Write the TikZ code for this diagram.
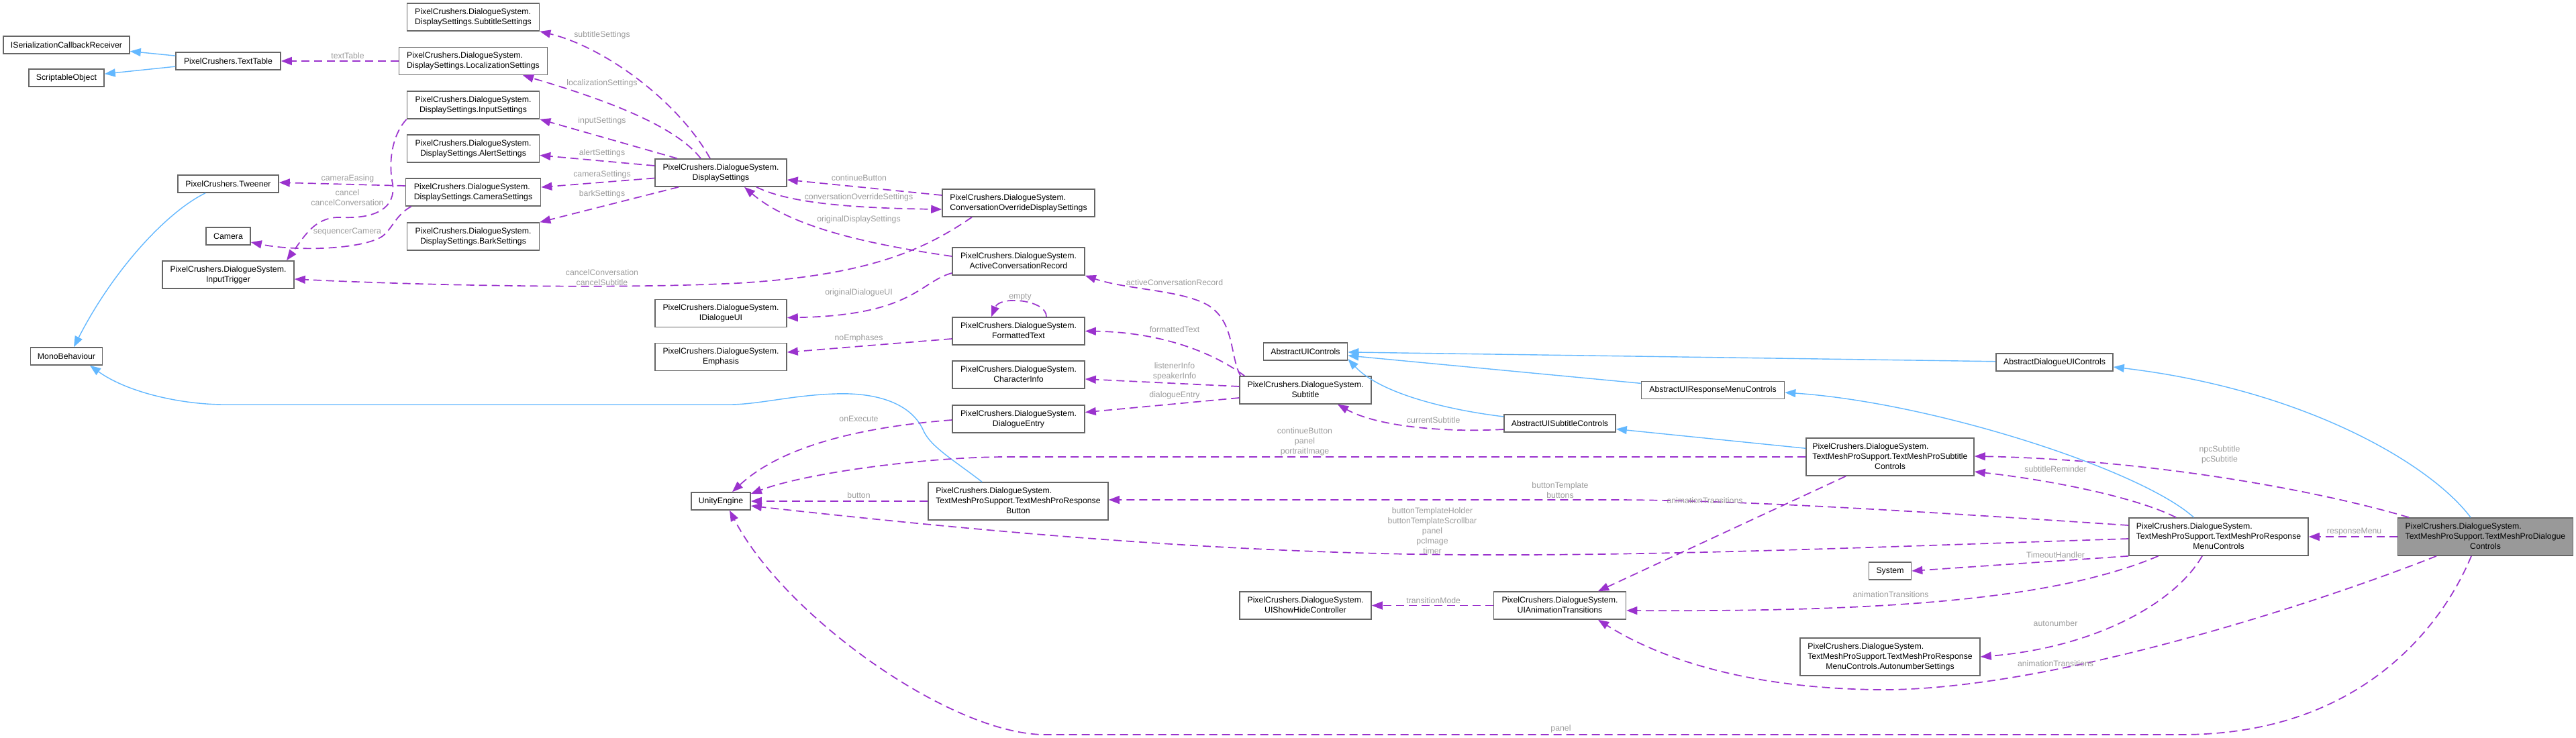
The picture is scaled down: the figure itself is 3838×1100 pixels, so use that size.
\documentclass[tikz,border=0pt]{standalone}
\usepackage{fontspec}
\setmainfont{Liberation Sans}
\usetikzlibrary{arrows.meta,calc}
\definecolor{inhblue}{HTML}{63B8FF}
\definecolor{usepurple}{HTML}{9A32CD}
\definecolor{lblgray}{HTML}{9C9C9C}
\definecolor{boxgray}{HTML}{666666}
\definecolor{mainfill}{HTML}{999999}
\newcommand{\nfont}{\fontsize{12.3}{15}\selectfont}
\newcommand{\twoln}[2]{\begin{tabular}{@{}l@{}}#1\\\multicolumn{1}{@{}c@{}}{#2}\end{tabular}}
\newcommand{\threeln}[3]{\begin{tabular}{@{}l@{}}#1\\#2\\\multicolumn{1}{@{}c@{}}{#3}\end{tabular}}
\newcommand{\pcds}{PixelCrushers.DialogueSystem.}
\begin{document}
\begin{tikzpicture}[x=1pt,y=-1pt,
 cbox/.style={draw=boxgray, fill=white, line width=1.6pt, inner xsep=3pt, inner ysep=0pt, font=\nfont, minimum height=26pt},
 cbox2/.style={cbox, minimum height=41pt},
 cbox3/.style={cbox, minimum height=56pt},
 inhedge/.style={draw=inhblue, line width=1.4pt, -{Triangle[length=16pt,width=12pt]}},
 useedge/.style={draw=usepurple, line width=1.7pt, dash pattern=on 12pt off 7pt, -{Triangle[length=16pt,width=12pt]}},
 lbl/.style={font=\nfont, text=lblgray, inner sep=0pt, align=center}]

\fill[white] (0,0) rectangle (3838,1100);
\path[use as bounding box] (0,0) rectangle (3838,1100);

% ---------- nodes ----------
\node[cbox, minimum width=188pt] (iscr) at (99,67) {ISerializationCallbackReceiver};
\node[cbox, minimum width=112pt] (so) at (99,116) {ScriptableObject};
\node[cbox, minimum width=156pt] (tt) at (340,91) {PixelCrushers.TextTable};
\node[cbox, minimum width=150pt] (tw) at (340,274) {PixelCrushers.Tweener};
\node[cbox, minimum width=66pt] (cam) at (340,352) {Camera};
\node[cbox2, minimum width=196pt] (it) at (340,409.5) {\twoln{\pcds}{InputTrigger}};
\node[cbox, minimum width=107pt] (mb) at (99,531) {MonoBehaviour};

\node[cbox2, minimum width=197pt] (ss) at (705,25.5) {\twoln{\pcds}{DisplaySettings.SubtitleSettings}};
\node[cbox2, minimum width=221pt] (ls) at (705,91) {\twoln{\pcds}{DisplaySettings.LocalizationSettings}};
\node[cbox2, minimum width=197pt] (is) at (705,156.5) {\twoln{\pcds}{DisplaySettings.InputSettings}};
\node[cbox2, minimum width=197pt] (as) at (705,221.5) {\twoln{\pcds}{DisplaySettings.AlertSettings}};
\node[cbox2, minimum width=201pt] (cs) at (705,286.5) {\twoln{\pcds}{DisplaySettings.CameraSettings}};
\node[cbox2, minimum width=197pt] (bs) at (705,352.5) {\twoln{\pcds}{DisplaySettings.BarkSettings}};

\node[cbox2, minimum width=196pt] (ds) at (1074,257.5) {\twoln{\pcds}{DisplaySettings}};
\node[cbox2, minimum width=196pt] (idui) at (1074,467) {\twoln{\pcds}{IDialogueUI}};
\node[cbox2, minimum width=196pt] (emp) at (1074,532) {\twoln{\pcds}{Emphasis}};
\node[cbox, minimum width=88pt] (ue) at (1074,747) {UnityEngine};

\node[cbox2, minimum width=227pt] (cods) at (1517.5,302.5) {\twoln{\pcds}{ConversationOverrideDisplaySettings}};
\node[cbox2, minimum width=197pt] (acr) at (1517.5,389.5) {\twoln{\pcds}{ActiveConversationRecord}};
\node[cbox2, minimum width=197pt] (ft) at (1517.5,493.5) {\twoln{\pcds}{FormattedText}};
\node[cbox2, minimum width=197pt] (ci) at (1517.5,558.5) {\twoln{\pcds}{CharacterInfo}};
\node[cbox2, minimum width=197pt] (de) at (1517.5,624.5) {\twoln{\pcds}{DialogueEntry}};
\node[cbox3, minimum width=268pt] (rb) at (1517,747) {\threeln{\pcds}{TextMeshProSupport.TextMeshProResponse}{Button}};

\node[cbox, minimum width=125pt] (auic) at (1945,524) {AbstractUIControls};
\node[cbox2, minimum width=196pt] (sub) at (1945,581.5) {\twoln{\pcds}{Subtitle}};
\node[cbox2, minimum width=196pt] (shc) at (1945,902.5) {\twoln{\pcds}{UIShowHideController}};
\node[cbox, minimum width=166pt] (auisc) at (2324,631) {AbstractUISubtitleControls};
\node[cbox2, minimum width=197pt] (uat) at (2324,902.5) {\twoln{\pcds}{UIAnimationTransitions}};
\node[cbox, minimum width=213pt] (auirm) at (2552,581.5) {AbstractUIResponseMenuControls};
\node[cbox3, minimum width=250pt] (tsc) at (2816,681) {\threeln{\pcds}{TextMeshProSupport.TextMeshProSubtitle}{Controls}};
\node[cbox, minimum width=63pt] (sys) at (2816,851) {System};
\node[cbox3, minimum width=268pt] (ans) at (2816,979) {\threeln{\pcds}{TextMeshProSupport.TextMeshProResponse}{MenuControls.AutonumberSettings}};
\node[cbox, minimum width=174pt] (adui) at (3061,540) {AbstractDialogueUIControls};
\node[cbox3, minimum width=267pt] (rmc) at (3305.5,800) {\threeln{\pcds}{TextMeshProSupport.TextMeshProResponse}{MenuControls}};
\node[cbox3, fill=mainfill, minimum width=261pt] (main) at (3703,800) {\threeln{\pcds}{TextMeshProSupport.TextMeshProDialogue}{Controls}};

% ---------- inheritance ----------
\draw[inhedge] (tt) -- (iscr);
\draw[inhedge] (tt) -- (so);
\draw[inhedge] ([xshift=-34pt]tw.south) .. controls (250,315) and (170,400) .. ([xshift=11pt]mb.north);
\draw[inhedge] ([xshift=-54pt]rb.north) .. controls (1420,685) and (1385,665) .. (1375,640)
  .. controls (1355,598) and (1300,585) .. (1245,587)
  .. controls (1180,589) and (1130,603) .. (1087,603) -- (335,603)
  .. controls (270,603) and (190,585) .. ([xshift=35pt]mb.south);
\draw[inhedge] ([yshift=10pt]auisc.west) .. controls (2150,610) and (2055,585) .. ([yshift=-11pt]auic.east);
\draw[inhedge] (auirm) -- (auic);
\draw[inhedge] (adui) -- (auic);
\draw[inhedge] (tsc) -- (auisc);
\draw[inhedge] ([xshift=-37pt]rmc.north) .. controls (3190,700) and (2880,600) .. ([yshift=-3.5pt]auirm.east);
\draw[inhedge] ([xshift=-22pt]main.north) .. controls (3620,690) and (3430,580) .. ([yshift=-7pt]adui.east);

% ---------- usage ----------
\draw[useedge] (ls) -- (tt);
\draw[useedge] ([yshift=9.5pt]cs.west) -- ([yshift=2pt]tw.east);
\draw[useedge] (is.south west) .. controls (585,200) and (578,240) .. (585,274)
  .. controls (590,310) and (560,326) .. (510,324)
  .. controls (470,322) and (455,350) .. ([xshift=87pt]it.north);
\draw[useedge] ([xshift=9pt]cs.south west) .. controls (590,320) and (585,340) .. (570,352)
  .. controls (540,372) and (440,375) .. ([yshift=-9pt]cam.east);
\draw[useedge] ([xshift=-69.5pt]cods.south) .. controls (1380,370) and (1300,410) .. (1100,422)
  .. controls (900,432) and (600,424) .. ([yshift=-6.5pt]it.east);
\draw[useedge] ([xshift=-16pt]ds.north) .. controls (1010,150) and (900,70) .. (ss.south east);
\draw[useedge] ([xshift=-30pt]ds.north) .. controls (1005,185) and (890,145) .. ([xshift=74pt]ls.south);
\draw[useedge] ([xshift=-65pt]ds.north) -- (is.south east);
\draw[useedge] ([yshift=10.5pt]ds.west) -- ([yshift=-10pt]as.east);
\draw[useedge] ([yshift=-8pt]ds.west) -- ([yshift=7.5pt]cs.east);
\draw[useedge] ([xshift=-63pt]ds.south) -- (bs.north east);
\draw[useedge] ([yshift=11.5pt]cods.west) -- ([yshift=-10.5pt]ds.east);
\draw[useedge] ([xshift=53pt]ds.south) .. controls (1170,300) and (1250,310) .. ([yshift=-9.5pt]cods.west);
\draw[useedge] ([yshift=7.5pt]acr.west) .. controls (1300,365) and (1180,340) .. ([xshift=35pt]ds.south);
\draw[useedge] ([yshift=-17.5pt]acr.west) .. controls (1370,420) and (1360,470) .. ([yshift=-6.5pt]idui.east);
\draw[useedge] ([yshift=-11.5pt]ft.west) -- ([yshift=7pt]emp.east);
\draw[useedge] ([xshift=41.5pt]ft.north) .. controls (1560,447) and (1490,440) .. ([xshift=-40.5pt]ft.north);
\draw[useedge] ([yshift=-1.5pt]de.west) .. controls (1300,635) and (1170,660) .. ([xshift=17pt]ue.north);
\draw[useedge] ([xshift=2pt]sub.north west) .. controls (1832,530) and (1840,480) .. (1800,455)
  .. controls (1760,432) and (1680,432) .. (acr.south east);
\draw[useedge] ([xshift=8pt]sub.north west) .. controls (1800,520) and (1720,495) .. (ft.east);
\draw[useedge] ([yshift=5.5pt]sub.west) -- ([yshift=-6.5pt]ci.east);
\draw[useedge] ([yshift=-11.5pt]sub.west) -- ([yshift=10pt]de.east);
\draw[useedge] ([yshift=-9pt]auisc.west) .. controls (2150,645) and (2050,635) .. ([xshift=48pt]sub.south);
\draw[useedge] (uat) -- (shc);
\draw[useedge] (tsc.west) -- (1500,681) .. controls (1380,681) and (1200,705) .. ([yshift=11pt]ue.east);
\draw[useedge] (rb) -- (ue);
\draw[useedge] ([yshift=17pt]rmc.west) .. controls (2900,765) and (2600,745) .. (2400,745) -- ([yshift=2pt]rb.east);
\draw[useedge] ([yshift=-3pt]rmc.west) .. controls (2800,815) and (2500,828) .. (2200,827)
  .. controls (1800,826) and (1400,785) .. ([yshift=-7pt]ue.east);
\draw[useedge] ([xshift=-66pt]tsc.south) -- ([xshift=57pt]uat.north);
\draw[useedge] ([xshift=-90pt]rmc.south) .. controls (3060,895) and (2800,912) .. ([yshift=-7.5pt]uat.east);
\draw[useedge] (rmc.south west) -- (sys.east);
\draw[useedge] ([xshift=-24.5pt]rmc.south) .. controls (3240,900) and (3120,965) .. (ans.east);
\draw[useedge] ([xshift=-73pt]main.south) .. controls (3450,900) and (3050,1030) .. (2800,1028)
  .. controls (2600,1026) and (2470,980) .. ([xshift=57pt]uat.south);
\draw[useedge] (main) -- (rmc);
\draw[useedge] ([xshift=-114pt]main.north) .. controls (3450,730) and (3200,685) .. ([yshift=1pt]tsc.east);
\draw[useedge] ([xshift=-63.5pt]rmc.north) .. controls (3180,740) and (3050,715) .. ([yshift=-22pt]tsc.east);
\draw[useedge] ([xshift=-21pt]main.south) .. controls (3640,930) and (3520,1095) .. (3250,1095) -- (1560,1095)
  .. controls (1420,1097) and (1170,920) .. ([xshift=13pt]ue.south);

% ---------- labels ----------
\node[lbl] (L1) at (518,83) {textTable};
\node[lbl] (L2) at (518,266) {cameraEasing};
\node[lbl] (L3) at (517.5,295) {cancel\\cancelConversation};
\node[lbl] (L4) at (517.5,345) {sequencerCamera};
\node[lbl] (L5) at (897,413.5) {cancelConversation\\cancelSubtitle};
\node[lbl] (L6) at (897,52.6) {subtitleSettings};
\node[lbl] (L7) at (897,124.5) {localizationSettings};
\node[lbl] (L8) at (897,180.6) {inputSettings};
\node[lbl] (L9) at (897,228.7) {alertSettings};
\node[lbl] (L10) at (897,260.6) {cameraSettings};
\node[lbl] (L11) at (897,289.7) {barkSettings};
\node[lbl] (L12) at (1280,265) {continueButton};
\node[lbl] (L13) at (1279.5,294.6) {conversationOverrideSettings};
\node[lbl] (L14) at (1279.5,327) {originalDisplaySettings};
\node[lbl] (L15) at (1279.5,436.7) {originalDialogueUI};
\node[lbl] (L16) at (1279.5,504.7) {noEmphases};
\node[lbl] (L17) at (1520,442.6) {empty};
\node[lbl] (L18) at (1279.5,624.5) {onExecute};
\node[lbl] (L19) at (1750,421) {activeConversationRecord};
\node[lbl] (L20) at (1750,490.6) {formattedText};
\node[lbl] (L21) at (1750,553.4) {listenerInfo\\speakerInfo};
\node[lbl] (L22) at (1750,589) {dialogueEntry};
\node[lbl] (L23) at (2135.7,625.7) {currentSubtitle};
\node[lbl] (L24) at (2135.7,895) {transitionMode};
\node[lbl] (L25) at (1944,658.4) {continueButton\\panel\\portraitImage};
\node[lbl] (L26) at (1279.5,738.5) {button};
\node[lbl] (L27) at (2324.5,730.8) {buttonTemplate\\buttons};
\node[lbl] (L28) at (2134,790.7) {buttonTemplateHolder\\buttonTemplateScrollbar\\panel\\pcImage\\timer};
\node[lbl] (L29) at (2540,746) {animationTransitions};
\node[lbl] (L30) at (2817,885.7) {animationTransitions};
\node[lbl] (L31) at (3062.5,826.7) {TimeoutHandler};
\node[lbl] (L32) at (3062.5,929) {autonumber};
\node[lbl] (L33) at (3062.5,989) {animationTransitions};
\node[lbl] (L34) at (3507.6,792.7) {responseMenu};
\node[lbl] (L35) at (3307,678.2) {npcSubtitle\\pcSubtitle};
\node[lbl] (L36) at (3062.5,699) {subtitleReminder};
\node[lbl] (L37) at (2325.5,1086.7) {panel};
\end{tikzpicture}
\end{document}
